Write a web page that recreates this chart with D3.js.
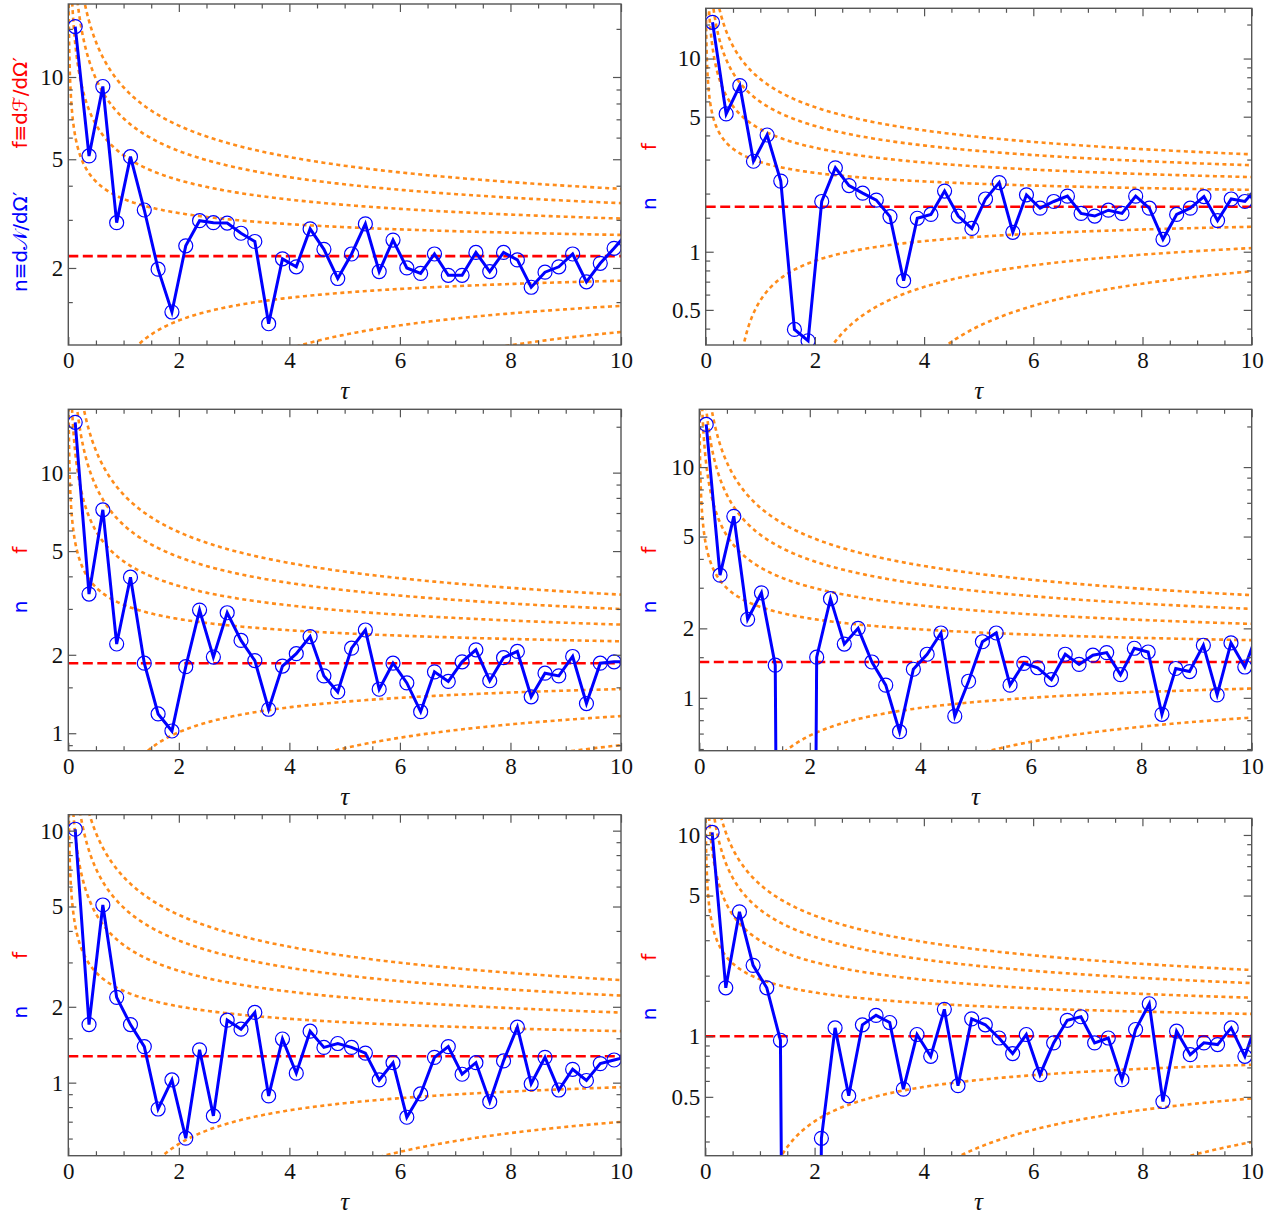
<!DOCTYPE html>
<html>
<head>
<meta charset="utf-8">
<script src="https://cdn.jsdelivr.net/npm/d3@7"></script>
<style>
  body { margin: 0; background: #fff; }
  svg { display: block; }
  .ticklab { font-family: "Liberation Serif", "Times New Roman", serif; font-size: 23px; fill: #111; }
  .taulab { font-family: "Liberation Serif", "Times New Roman", serif; font-style: italic; font-size: 25px; fill: #111; }
  .ylab { font-family: "DejaVu Sans", sans-serif; font-size: 20px; }
</style>
</head>
<body>
<svg id="fig" width="1281" height="1219"></svg>
<script>
// Sampling times (bin centres); the last one lies just past the plotted range.
const tau = [0.125, 0.375, 0.625, 0.875, 1.125, 1.375, 1.625, 1.875, 2.125, 2.375,
             2.625, 2.875, 3.125, 3.375, 3.625, 3.875, 4.125, 4.375, 4.625, 4.875,
             5.125, 5.375, 5.625, 5.875, 6.125, 6.375, 6.625, 6.875, 7.125, 7.375,
             7.625, 7.875, 8.125, 8.375, 8.625, 8.875, 9.125, 9.375, 9.625, 9.875, 10.125];

// Measured n per panel (0 = empty bin).
const nPanel1 = [15.3, 5.14, 9.23, 2.93, 5.11, 3.26, 1.98, 1.38, 2.41, 2.98,
                 2.93, 2.92, 2.68, 2.50, 1.25, 2.16, 2.02, 2.78, 2.34, 1.83,
                 2.25, 2.90, 1.94, 2.53, 2.00, 1.91, 2.25, 1.88, 1.88, 2.28,
                 1.94, 2.28, 2.14, 1.70, 1.93, 2.02, 2.25, 1.78, 2.08, 2.36, 2.7];
const nPanel2 = [15.4, 5.17, 7.24, 2.94, 4.02, 2.32, 0.396, 0.346, 1.82, 2.72,
                 2.20, 2.01, 1.85, 1.52, 0.708, 1.49, 1.56, 2.06, 1.53, 1.32,
                 1.875, 2.28, 1.26, 1.97, 1.68, 1.82, 1.94, 1.58, 1.53, 1.64,
                 1.58, 1.94, 1.68, 1.16, 1.56, 1.68, 1.93, 1.45, 1.875, 1.82, 2.2];
const nPanel3 = [15.6, 3.42, 7.2, 2.20, 3.97, 1.857, 1.186, 1.02, 1.80, 2.97,
                 1.96, 2.90, 2.27, 1.90, 1.236, 1.81, 2.02, 2.35, 1.66, 1.44,
                 2.12, 2.49, 1.475, 1.857, 1.56, 1.21, 1.72, 1.58, 1.88, 2.09,
                 1.59, 1.95, 2.06, 1.38, 1.70, 1.66, 1.97, 1.30, 1.857, 1.88, 1.88];
const nPanel4 = [15.3, 3.40, 6.12, 2.19, 2.85, 1.385, 0, 0, 1.50, 2.69,
                 1.71, 2.0, 1.43, 1.135, 0.713, 1.33, 1.545, 1.91, 0.833, 1.18,
                 1.75, 1.91, 1.135, 1.41, 1.35, 1.20, 1.545, 1.395, 1.53, 1.57,
                 1.26, 1.64, 1.58, 0.848, 1.34, 1.30, 1.69, 1.03, 1.73, 1.36, 1.97];
const nPanel5 = [10.13, 1.70, 5.07, 2.18, 1.70, 1.39, 0.786, 1.025, 0.602, 1.35,
                 0.738, 1.77, 1.63, 1.90, 0.886, 1.49, 1.09, 1.60, 1.38, 1.43,
                 1.38, 1.31, 1.025, 1.20, 0.729, 0.902, 1.26, 1.39, 1.08, 1.20,
                 0.84, 1.22, 1.66, 0.99, 1.26, 0.935, 1.13, 1.02, 1.19, 1.23, 1.27];
const nPanel6 = [10.3, 1.74, 4.15, 2.25, 1.74, 0.955, 0, 0, 0.311, 1.10,
                 0.506, 1.14, 1.27, 1.17, 0.546, 1.02, 0.795, 1.36, 0.568, 1.22,
                 1.14, 0.98, 0.82, 1.02, 0.644, 0.927, 1.20, 1.25, 0.927, 0.98,
                 0.608, 1.08, 1.45, 0.474, 1.06, 0.81, 0.927, 0.909, 1.10, 0.795, 1.25];

// Flux level f (red dashed) per panel.
const fLevel = [2.21, 1.71, 1.857, 1.43, 1.273, 1.0];

// Fluctuation band coefficients: n = f ± sqrt(f)·(a/√τ + b/τ)
const bandUpperA = [0.92, 1.64, 2.36, 3.08];
const bandUpperB = [0.0, 0.35, 0.9, 1.6];
const bandLowerA = [0.88, 1.61, 2.22];

// Axis ranges and ticks.
const xRange = [0, 10];
const xMajorTicks = [0, 2, 4, 6, 8, 10];
const xMinorTicks = [0.5, 1, 1.5, 2.5, 3, 3.5, 4.5, 5, 5.5, 6.5, 7, 7.5, 8.5, 9, 9.5];
const yRanges = [[1.045, 18.5], [0.329, 18.2], [0.857, 17.5], [0.59, 17.8], [0.513, 11.57], [0.255, 12.1]];
const yMajorTicks = [[2, 5, 10], [0.5, 1, 5, 10], [1, 2, 5, 10], [1, 2, 5, 10], [1, 2, 5, 10], [0.5, 1, 5, 10]];
const yMinorCandidates = [0.3, 0.4, 0.6, 0.7, 0.8, 0.9, 1.5, 2, 3, 4, 6, 7, 8, 9, 15];

// Axis titles.
const nLabelFull = "n≡d𝒩/dΩ′";
const fLabelFull = "f≡dℱ/dΩ′";
const nLabelShort = "n";
const fLabelShort = "f";

const series = [nPanel1, nPanel2, nPanel3, nPanel4, nPanel5, nPanel6];

// Panel boxes (pixel layout).
const frames = [
  { x0: 68.3,  x1: 621,    y0: 4,     y1: 345,    tx: 27  },
  { x0: 705.7, x1: 1251.7, y0: 8.3,   y1: 345,    tx: 656 },
  { x0: 68.3,  x1: 621,    y0: 409.3, y1: 750.7,  tx: 27  },
  { x0: 699.3, x1: 1251.7, y0: 409.3, y1: 750.7,  tx: 656 },
  { x0: 68.3,  x1: 621,    y0: 814.7, y1: 1155.7, tx: 27  },
  { x0: 705.3, x1: 1251.7, y0: 818.3, y1: 1155.7, tx: 656 }
];

const BLUE = "#0000ff", RED = "#ff0000", ORANGE = "#ff8c1a", AXIS = "#555";
const svg = d3.select("#fig");
const defs = svg.append("defs");

// fine grid of τ for drawing the smooth band curves
const tGrid = d3.range(0, 800).map(i => 0.004 * Math.pow(10 / 0.004, i / 799));

series.forEach((vals, idx) => {
  const fr = frames[idx];
  const x = d3.scaleLinear().domain(xRange).range([fr.x0, fr.x1]);
  const y = d3.scaleLog().domain(yRanges[idx]).range([fr.y1, fr.y0]);
  const g = svg.append("g");

  const clipId = "plotclip" + idx;
  defs.append("clipPath").attr("id", clipId)
    .append("rect").attr("x", fr.x0).attr("y", fr.y0)
    .attr("width", fr.x1 - fr.x0).attr("height", fr.y1 - fr.y0);
  const plot = g.append("g").attr("clip-path", `url(#${clipId})`);

  const f = fLevel[idx], sf = Math.sqrt(f);
  const curve = d3.line()
    .defined(d => d[1] > 0)
    .x(d => x(d[0])).y(d => y(d[1]));

  // upper fluctuation bands
  bandUpperA.forEach((a, k) => {
    const b = bandUpperB[k];
    const pts = tGrid.map(t => [t, f + sf * (a / Math.sqrt(t) + b / t)]);
    plot.append("path").attr("d", curve(pts))
      .attr("fill", "none").attr("stroke", ORANGE)
      .attr("stroke-width", 2.6).attr("stroke-dasharray", "4,3.5");
  });
  // lower fluctuation bands
  bandLowerA.forEach(a => {
    const pts = tGrid.map(t => [t, f - sf * a / Math.sqrt(t)]);
    plot.append("path").attr("d", curve(pts))
      .attr("fill", "none").attr("stroke", ORANGE)
      .attr("stroke-width", 2.6).attr("stroke-dasharray", "4,3.5");
  });

  // flux level
  plot.append("line")
    .attr("x1", x(xRange[0])).attr("x2", x(xRange[1]))
    .attr("y1", y(f)).attr("y2", y(f))
    .attr("stroke", RED).attr("stroke-width", 2.6)
    .attr("stroke-dasharray", "10,4.5");

  // measured n: empty bins fall far below the axis
  const pts = tau.map((t, i) => [t, vals[i]]);
  const nLine = d3.line()
    .x(d => x(d[0]))
    .y(d => y(Math.max(d[1], 1e-9)));
  plot.append("path").attr("d", nLine(pts))
    .attr("fill", "none").attr("stroke", BLUE)
    .attr("stroke-width", 3).attr("stroke-linejoin", "miter");
  plot.selectAll("circle.pt").data(pts.filter(d => d[1] > 0)).enter()
    .append("circle").attr("class", "pt")
    .attr("cx", d => x(d[0])).attr("cy", d => y(d[1])).attr("r", 7)
    .attr("fill", "none").attr("stroke", BLUE).attr("stroke-width", 1.2);

  // frame
  g.append("rect").attr("x", fr.x0).attr("y", fr.y0)
    .attr("width", fr.x1 - fr.x0).attr("height", fr.y1 - fr.y0)
    .attr("fill", "none").attr("stroke", AXIS).attr("stroke-width", 1.4);

  const [ylo, yhi] = yRanges[idx];
  const yMinor = yMinorCandidates.filter(v => v >= ylo && v <= yhi && !yMajorTicks[idx].includes(v));

  const styleAxis = sel => {
    sel.attr("font-family", null).attr("font-size", null);
    sel.select(".domain").remove();
    sel.selectAll(".tick line").attr("stroke", AXIS).attr("stroke-width", 1.2);
    sel.selectAll(".tick text").attr("class", "ticklab").attr("fill", null);
  };

  // bottom axis with labels
  g.append("g").attr("transform", `translate(0,${fr.y1})`)
    .call(d3.axisBottom(x).tickValues(xMajorTicks).tickFormat(d3.format("d"))
      .tickSizeInner(-8).tickSizeOuter(0).tickPadding(7))
    .call(styleAxis);
  g.append("g").attr("transform", `translate(0,${fr.y1})`)
    .call(d3.axisBottom(x).tickValues(xMinorTicks).tickFormat("")
      .tickSizeInner(-4.5).tickSizeOuter(0))
    .call(styleAxis);
  // top axis, ticks only
  g.append("g").attr("transform", `translate(0,${fr.y0})`)
    .call(d3.axisTop(x).tickValues(xMajorTicks).tickFormat("")
      .tickSizeInner(-8).tickSizeOuter(0))
    .call(styleAxis);
  g.append("g").attr("transform", `translate(0,${fr.y0})`)
    .call(d3.axisTop(x).tickValues(xMinorTicks).tickFormat("")
      .tickSizeInner(-4.5).tickSizeOuter(0))
    .call(styleAxis);

  // left axis with labels
  g.append("g").attr("transform", `translate(${fr.x0},0)`)
    .call(d3.axisLeft(y).tickValues(yMajorTicks[idx]).tickFormat(d => String(d))
      .tickSizeInner(-8).tickSizeOuter(0).tickPadding(5))
    .call(styleAxis);
  g.append("g").attr("transform", `translate(${fr.x0},0)`)
    .call(d3.axisLeft(y).tickValues(yMinor).tickFormat("")
      .tickSizeInner(-4.5).tickSizeOuter(0))
    .call(styleAxis);
  // right axis, ticks only
  g.append("g").attr("transform", `translate(${fr.x1},0)`)
    .call(d3.axisRight(y).tickValues(yMajorTicks[idx]).tickFormat("")
      .tickSizeInner(-8).tickSizeOuter(0))
    .call(styleAxis);
  g.append("g").attr("transform", `translate(${fr.x1},0)`)
    .call(d3.axisRight(y).tickValues(yMinor).tickFormat("")
      .tickSizeInner(-4.5).tickSizeOuter(0))
    .call(styleAxis);

  // τ title
  g.append("text").attr("class", "taulab")
    .attr("x", (fr.x0 + fr.x1) / 2).attr("y", fr.y1 + 54)
    .attr("text-anchor", "middle")
    .text("τ");

  // y title: n (blue) and f (red)
  const cy = (fr.y0 + fr.y1) / 2;
  const full = idx === 0;
  const t = g.append("text").attr("class", "ylab")
    .attr("transform", `translate(${fr.tx},${cy}) rotate(-90)`)
    .attr("text-anchor", "middle");
  t.append("tspan").attr("fill", BLUE).text(full ? nLabelFull : nLabelShort);
  t.append("tspan").attr("fill", RED).attr("dx", full ? 43 : 47).text(full ? fLabelFull : fLabelShort);
});
</script>
</body>
</html>
